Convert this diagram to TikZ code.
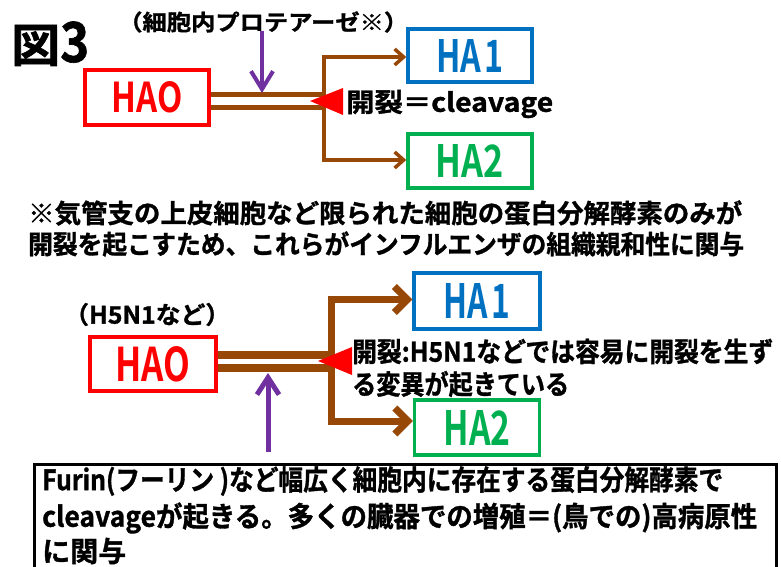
\documentclass[tikz,border=0pt]{standalone}
\usepackage{fontspec}
\usepackage{graphicx}
\setmainfont{Noto Sans CJK JP Bold}[FakeBold=1.2]
\newfontfamily\haf{Noto Sans CJK JP Bold}
\usetikzlibrary{arrows.meta}
\definecolor{brn}{RGB}{152,72,6}
\definecolor{prp}{RGB}{112,48,160}
\definecolor{hablue}{RGB}{0,112,192}
\definecolor{hagreen}{RGB}{0,176,80}
\newcommand{\fitw}[2]{\resizebox{#1}{\height}{#2}}
\newcommand{\fitwh}[3]{\resizebox{#1}{#2}{#3}}
\begin{document}
\begin{tikzpicture}[x=1pt,y=-1pt,
  hbox/.style={draw, line width=3.5pt, rectangle, inner sep=0pt, fill=white, font=\haf},
  txt/.style={anchor=west, inner sep=0pt},
  brA/.style={draw=brn, line width=3.5pt, -{Straight Barb[length=9pt,width=16pt]}},
  brB/.style={draw=brn, line width=7pt, -{Straight Barb[length=13pt,width=26pt]}},
  prA/.style={draw=prp, line width=4pt, -{Straight Barb[length=18pt,width=22pt]}},
  prB/.style={draw=prp, line width=5pt, -{Straight Barb[length=17pt,width=22pt]}}]
\useasboundingbox (0,0) rectangle (781,567);
\clip (0,0) rectangle (781,567);
\fill[white] (0,0) rectangle (781,567);

% ---------- top section ----------
\node[anchor=base west, inner sep=0pt] (fig) at (11,62)
  {\fitw{78pt}{\fontsize{46}{46}\selectfont 図\scalebox{1}[1.2]{3}}};
\node[txt] (prot) at (118,22)
  {\fitw{290pt}{\fontsize{22}{22}\selectfont （細胞内プロテアーゼ※）}};

\node[hbox, draw=red, text=red, minimum width=124, minimum height=55] (haoA) at (147,97.5)
  {\fitwh{71pt}{31pt}{HAO}};
\node[hbox, draw=hablue, text=hablue, minimum width=124, minimum height=53] (ha1A) at (470,55.5)
  {\fitwh{68pt}{33pt}{HA\hspace{0.12em}1}};
\node[hbox, draw=hagreen, text=hagreen, minimum width=124, minimum height=54] (ha2A) at (470,161)
  {\fitwh{68pt}{33pt}{HA2}};

\coordinate (a1) at (324,95);
\coordinate (a2) at (324,108);
\coordinate (av1) at (324,57);
\coordinate (av2) at (324,160);
\draw[brn, line width=5pt] (haoA.east |- a1) -- (a1);
\draw[brn, line width=5pt] (haoA.east |- a2) -- (a2);
\draw[brn, line width=3.5pt, line cap=rect] (av1) -- (av2);
\draw[brA] (av1) -- (ha1A.west |- av1);
\draw[brA] (av2) -- (ha2A.west |- av2);
\fill[red] (310,101) -- (343,88) -- (343,115) -- cycle;
\coordinate (pA) at (262,31);
\coordinate (pAe) at (262,93);
\draw[prA] (pA) -- (pAe);

\node[txt] (cleave) at (346,104)
  {\fitw{207pt}{\fontsize{26}{26}\selectfont 開裂＝cleavage}};

% ---------- note ----------
\node[txt] (note1) at (28,213)
  {\fitw{714pt}{\fontsize{26}{26}\selectfont ※気管支の上皮細胞など限られた細胞の蛋白分解酵素のみが}};
\node[txt] (note2) at (28,244)
  {\fitw{716pt}{\fontsize{26}{26}\selectfont 開裂を起こすため、これらがインフルエンザの組織親和性に関与}};

% ---------- bottom section ----------
\node[txt] (h5n1) at (64,314.5)
  {\fitw{166pt}{\fontsize{24}{24}\selectfont （H5N1など）}};

\node[hbox, draw=red, text=red, minimum width=126, minimum height=54] (haoB) at (153,364)
  {\fitwh{75pt}{35pt}{HAO}};
\node[hbox, draw=hablue, text=hablue, minimum width=126, minimum height=56] (ha1B) at (477,301)
  {\fitwh{67pt}{35pt}{HA\hspace{0.12em}1}};
\node[hbox, draw=hagreen, text=hagreen, minimum width=125, minimum height=55] (ha2B) at (477,427.5)
  {\fitwh{67pt}{35pt}{HA2}};

\coordinate (b1) at (331,355);
\coordinate (b2) at (331,368);
\coordinate (bv1) at (331,299.5);
\coordinate (bv2) at (331,421);
\draw[brn, line width=8pt] (haoB.east |- b1) -- (b1);
\draw[brn, line width=8pt] (haoB.east |- b2) -- (b2);
\draw[brn, line width=7pt, line cap=rect] (bv1) -- (bv2);
\draw[brB] (bv1) -- (ha1B.west |- bv1);
\draw[brB] (bv2) -- (ha2B.west |- bv2);
\fill[red] (318,361) -- (352,347) -- (352,375) -- cycle;
\coordinate (pB) at (268,452);
\coordinate (pBe) at (268,373);
\draw[prB] (pB) -- (pBe);

\node[txt] (cleave2a) at (352,351.5)
  {\fitw{421pt}{\fontsize{27}{27}\selectfont 開裂:H5N1などでは容易に開裂を生ず}};
\node[txt] (cleave2b) at (352,384)
  {\fitw{217pt}{\fontsize{27}{27}\selectfont る変異が起きている}};

\node[draw, line width=2.5pt, anchor=north west, minimum width=742, minimum height=130, inner sep=0pt] (furinbox) at (33,463) {};
\node[txt] (fur1) at (42,481)
  {\fitw{681pt}{\fontsize{28}{28}\selectfont Furin(フーリン )など幅広く細胞内に存在する蛋白分解酵素で}};
\node[txt] (fur2) at (42,518)
  {\fitw{715pt}{\fontsize{28}{28}\selectfont cleavageが起きる。多くの臓器での増殖＝(鳥での)高病原性}};
\node[txt] (fur3) at (42,551)
  {\fontsize{28}{28}\selectfont に関与};
\end{tikzpicture}
\end{document}
